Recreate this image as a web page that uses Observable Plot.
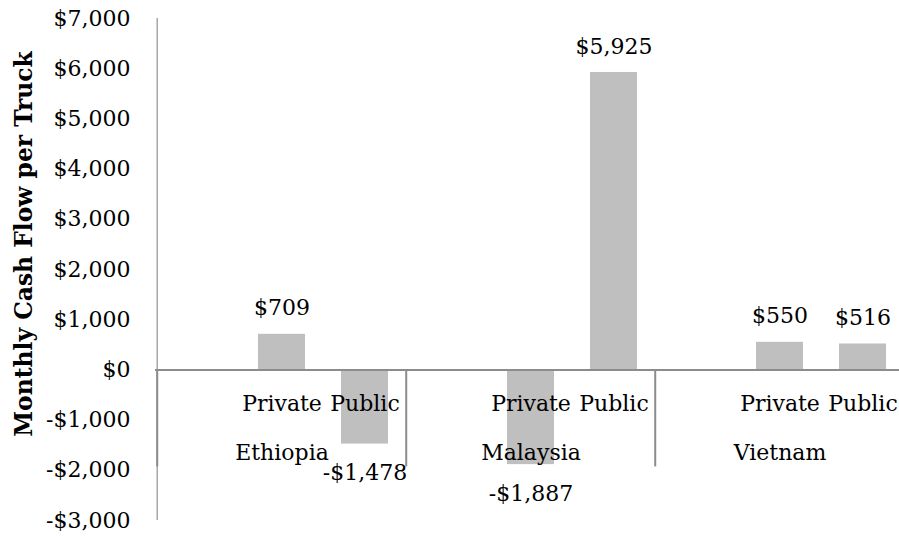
<!DOCTYPE html>
<html><head><meta charset="utf-8">
<script src="https://cdn.jsdelivr.net/npm/d3@7"></script>
<script src="https://cdn.jsdelivr.net/npm/@observablehq/plot@0.6"></script>
<style>
html,body{margin:0;padding:0;background:#fff;overflow:hidden;width:899px;height:537px}
#chart svg{max-width:none !important;display:block}
</style>
</head><body><div id="chart"></div>
<script>
const countries = ["Ethiopia", "Malaysia", "Vietnam"];
const types = ["Private", "Public"];
const privateValues = [709, -1887, 550];
const publicValues = [-1478, 5925, 516];
const yTicks = [-3000, -2000, -1000, 0, 1000, 2000, 3000, 4000, 5000, 6000, 7000];
const yTickLabels = ["-$3,000", "-$2,000", "-$1,000", "$0", "$1,000", "$2,000", "$3,000", "$4,000", "$5,000", "$6,000", "$7,000"];
const yTitle = "Monthly Cash Flow per Truck";

const W = 907, H = 537, ML = 155, MR = 0, MT = 18, MB = 17;
const slot = (c, t) => c + "|" + t;
const xDomain = countries.flatMap(c => [slot(c, ""), ...types.map(t => slot(c, t))]);
const rows = countries.flatMap((c, i) => [
  {country: c, type: types[0], value: privateValues[i]},
  {country: c, type: types[1], value: publicValues[i]}
]).map(d => ({...d, key: slot(d.country, d.type)}));
const fmt = v => (v < 0 ? "-$" : "$") + d3.format(",")(Math.abs(v));
const sepShift = -(W - ML - MR) / xDomain.length / 2;
const FONT = "DejaVu Serif";

const chart = Plot.plot({
  width: W, height: H,
  marginLeft: ML, marginRight: MR, marginTop: MT, marginBottom: MB,
  style: {fontFamily: FONT, fontSize: "22px", background: "#fff", color: "#000", overflow: "visible"},
  x: {domain: xDomain, paddingInner: 0.431, paddingOuter: 0.2155, axis: null},
  y: {domain: [-3000, 7000], axis: null},
  marks: [
    Plot.barY(rows, {x: "key", y: "value", fill: "#bfbfbf"}),
    Plot.ruleX([xDomain[0]], {x: d => d, dx: sepShift, stroke: "#a6a6a6", strokeWidth: 1.5}),
    Plot.ruleX(countries, {x: c => slot(c, ""), y1: 0, y2: 0, dx: sepShift, insetBottom: -97, stroke: "#8c8c8c", strokeWidth: 2}),
    Plot.ruleY([0], {stroke: "#8c8c8c", strokeWidth: 2}),
    Plot.axisY(yTicks, {tickSize: 0, tickPadding: 25, fontSize: 22, fill: "#000",
      tickFormat: d => yTickLabels[yTicks.indexOf(d)], label: null}),
    Plot.text(rows, {x: "key", y: 0, text: "type", dy: 34, fontSize: 22, fill: "#000"}),
    Plot.text(countries, {x: c => slot(c, types[0]), y: 0, text: d => d, dy: 83.5, fontSize: 22, fill: "#000"}),
    Plot.text(rows.filter(d => d.value >= 0), {x: "key", y: "value", text: d => fmt(d.value), dy: -26, fontSize: 22, fill: "#000"}),
    Plot.text(rows.filter(d => d.value < 0), {x: "key", y: "value", text: d => fmt(d.value), dy: 29, fontSize: 22, fill: "#000"}),
    Plot.text([yTitle], {frameAnchor: "left", textAnchor: "middle", rotate: -90, dx: -131, dy: -25.5,
      fontWeight: "bold", fontSize: 23.4, fill: "#000"})
  ]
});
document.getElementById("chart").appendChild(chart);
</script>
</body></html>
